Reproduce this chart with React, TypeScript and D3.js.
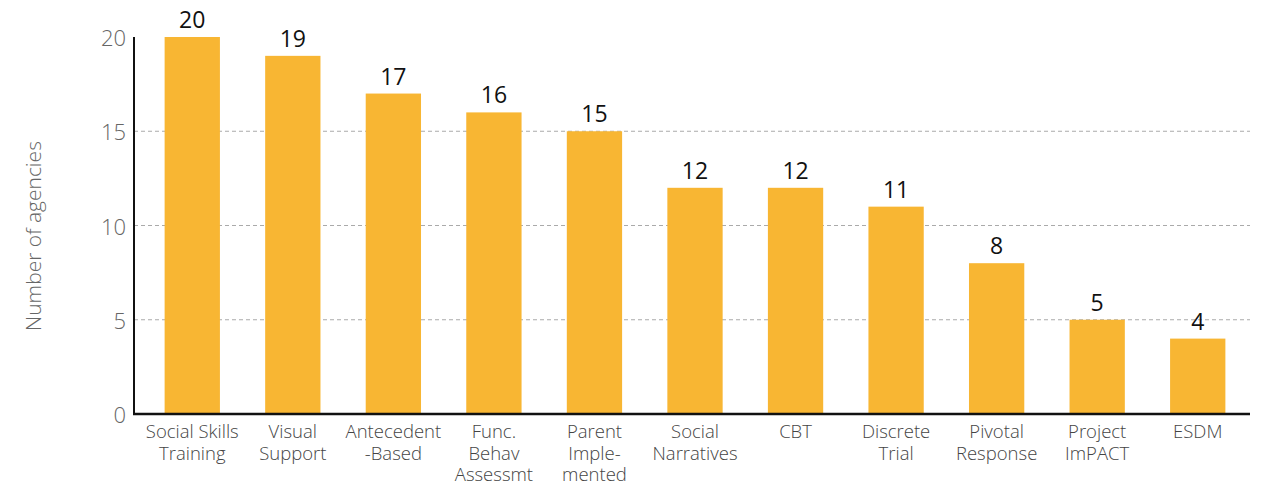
import React from "react";
import * as d3 from "d3";

const categories: string[][] = [
  ["Social Skills", "Training"],
  ["Visual", "Support"],
  ["Antecedent", "-Based"],
  ["Func.", "Behav", "Assessmt"],
  ["Parent", "Imple-", "mented"],
  ["Social", "Narratives"],
  ["CBT"],
  ["Discrete", "Trial"],
  ["Pivotal", "Response"],
  ["Project", "ImPACT"],
  ["ESDM"],
];
const values: number[] = [20, 19, 17, 16, 15, 12, 12, 11, 8, 5, 4];
const yTicks: number[] = [0, 5, 10, 15, 20];
const gridTicks: number[] = [5, 10, 15];

const W = 1271;
const H = 485;
const axisX = 134;
const axisRight = 1250;
const y0 = 414;
const yTop = 37;

export default function App() {
  const x = d3
    .scaleBand<number>()
    .domain(values.map((_, i) => i))
    .range([142, 1248])
    .paddingInner(0.45)
    .paddingOuter(0.225);
  const y = d3.scaleLinear().domain([0, 20]).range([y0, yTop]);
  const font = "'Open Sans', Lato, sans-serif";
  return (
    <svg
      width={W}
      height={H}
      style={{ position: "absolute", left: 0, top: 0, background: "#fff" }}
    >
      {gridTicks.map((t) => (
        <line
          key={t}
          x1={axisX}
          x2={axisRight}
          y1={y(t)}
          y2={y(t)}
          stroke="#aaa"
          strokeWidth={1}
          strokeDasharray="4,3"
        />
      ))}
      {values.map((v, i) => (
        <rect
          key={i}
          x={x(i)}
          y={y(v)}
          width={x.bandwidth()}
          height={y0 - y(v)}
          fill="#F8B633"
        />
      ))}
      {values.map((v, i) => (
        <text
          key={"v" + i}
          x={(x(i) as number) + x.bandwidth() / 2}
          y={y(v) - 9}
          textAnchor="middle"
          fontFamily={font}
          fontSize={23}
          fontWeight={500}
          fill="#111"
        >
          {v}
        </text>
      ))}
      <line x1={axisX} x2={axisX} y1={yTop} y2={y0 + 1} stroke="#111" strokeWidth={2} />
      <line x1={axisX - 1} x2={axisRight} y1={y0} y2={y0} stroke="#111" strokeWidth={2.5} />
      {yTicks.map((t) => (
        <text
          key={"t" + t}
          x={126}
          y={y(t) + 9}
          textAnchor="end"
          fontFamily={font}
          fontSize={22}
          fontWeight={300}
          fill="#666"
        >
          {t}
        </text>
      ))}
      <text
        transform={`translate(41,236) rotate(-90)`}
        textAnchor="middle"
        fontFamily={font}
        fontSize={21}
        fontWeight={300}
        fill="#666"
      >
        Number of agencies
      </text>
      {categories.map((lines, i) => (
        <text
          key={"c" + i}
          x={(x(i) as number) + x.bandwidth() / 2}
          y={438}
          textAnchor="middle"
          fontFamily={font}
          fontSize={18.5}
          fontWeight={300}
          fill="#444"
        >
          {lines.map((l, j) => (
            <tspan key={j} x={(x(i) as number) + x.bandwidth() / 2} dy={j === 0 ? 0 : 21.5}>
              {l}
            </tspan>
          ))}
        </text>
      ))}
    </svg>
  );
}
